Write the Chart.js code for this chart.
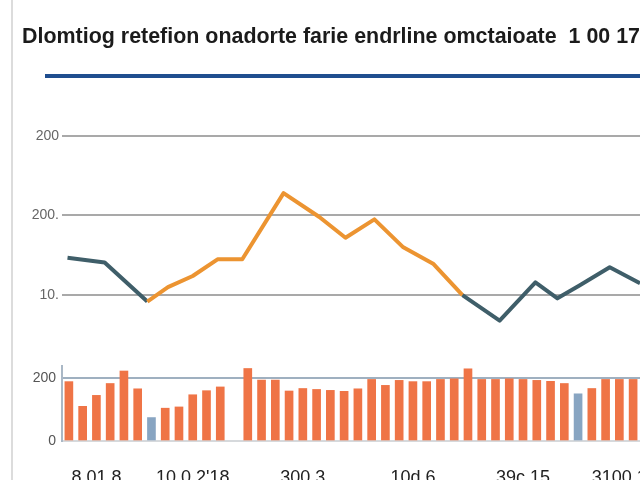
<!DOCTYPE html>
<html>
<head>
<meta charset="utf-8">
<script src="https://cdn.jsdelivr.net/npm/chart.js@4/dist/chart.umd.min.js"></script>
<style>
  html, body { margin: 0; padding: 0; background: #fff; overflow: hidden; }
  #wrap { position: relative; width: 640px; height: 480px; overflow: hidden; }
  #frame { position: absolute; left: 11px; top: 0; width: 2px; height: 480px; background: #dcdcdc; }
  #rule { position: absolute; left: 45px; top: 74px; width: 600px; height: 4px; background: #1f4e8f; }
  #lineChart { position: absolute; left: 22px; top: 0; }
  #barChart { position: absolute; left: 12px; top: 356px; }
</style>
</head>
<body>
<div id="wrap">
  <div id="frame"></div>
  <canvas id="lineChart" width="618" height="346"></canvas>
  <div id="rule"></div>
  <canvas id="barChart" width="628" height="140"></canvas>
</div>
<script>
var titulo = 'Dlomtiog retefion onadorte farie endrline omctaioate  1 00 17';

// linha (posicao no eixo de periodos, valor)
var linhaPeriodo = [-0.1, 2.6, 5.7, 7.2, 9.0, 10.8, 12.6, 15.6, 18.2, 20.1, 22.2, 24.3, 26.5, 28.6, 31.3, 33.9, 35.5, 37.1, 39.3, 41.5];
var linhaValores = [147, 141, 92, 110, 124, 145, 145, 228, 198, 172, 195, 160, 139, 100, 68, 116, 96, 112, 135, 115];
var linhaTickValores = [100, 200, 300];
var linhaTickTextos = ['10.', '200.', '200'];

// barras
var periodos = ['', '', '8 01 8', '', '', '', '', '', '', '10 0 2\'18', '', '', '', '', '', '', '', '300 3', '', '', '', '', '', '', '', '10d 6', '', '', '', '', '', '', '', '39c 15', '', '', '', '', '', '', '3100 1', ''];
var barrasValores = [190, 111, 146, 184, 224, 167, 75, 105, 109, 148, 161, 173, null, 232, 195, 195, 160, 168, 165, 162, 159, 167, 197, 178, 194, 190, 190, 197, 199, 231, 197, 197, 199, 197, 194, 191, 184, 151, 168, 197, 197, 197];
var barrasAzuis = [6, 37];
var barrasTickValores = [0, 200];
var barrasTickTextos = ['0', '200'];

var corLaranja = '#ec9431';
var corEscura = '#3f5e69';
var corBarra = '#ef7446';
var corBarraAzul = '#88a5c2';

var fonte = "'Liberation Sans', Arial, sans-serif";

var pontos = [];
for (var i = 0; i < linhaValores.length; i++) {
    pontos.push({ x: linhaPeriodo[i], y: linhaValores[i] });
}

var coresBarras = [];
for (var j = 0; j < barrasValores.length; j++) {
    coresBarras.push(barrasAzuis.indexOf(j) >= 0 ? corBarraAzul : corBarra);
}

var fixaTicks = function(valores) {
    return function(scale) {
        scale.ticks = valores.map(function(v) { return { value: v }; });
    };
};

var textoTick = function(valores, textos) {
    return function(v) {
        var k = valores.indexOf(v);
        return k >= 0 ? textos[k] : '';
    };
};

// tira o espaco extra que o chart.js reserva para os rotulos das pontas
var semPadding = function(largura, altura) {
    return function(s) {
        if (largura) s.width = largura;
        if (altura) s.height = altura;
        s.paddingTop = 0;
        s.paddingBottom = 0;
        s.paddingLeft = 0;
        s.paddingRight = 0;
    };
};

new Chart(document.getElementById('lineChart'), {
    type: 'line',
    data: {
        datasets: [{
            data: pontos,
            borderWidth: 4,
            borderColor: corLaranja,
            borderJoinStyle: 'round',
            tension: 0,
            pointRadius: 0,
            segment: {
                borderColor: function(ctx) {
                    var k = ctx.p0DataIndex;
                    return (k < 2 || k >= 13) ? corEscura : corLaranja;
                }
            }
        }]
    },
    options: {
        responsive: false,
        animation: false,
        devicePixelRatio: 1,
        layout: { padding: { left: 0, right: 0, top: 0, bottom: 3 } },
        plugins: {
            legend: { display: false },
            tooltip: { enabled: false },
            title: {
                display: true,
                text: titulo,
                align: 'start',
                color: '#1b1b1b',
                font: { family: fonte, size: 22, weight: 'bold' },
                padding: { top: 24, bottom: 59 }
            }
        },
        scales: {
            x: {
                type: 'linear',
                min: -0.5,
                max: 41.5,
                display: false
            },
            y: {
                min: 40,
                max: 333,
                afterBuildTicks: fixaTicks(linhaTickValores),
                afterFit: semPadding(40, 0),
                border: { display: false },
                grid: { color: '#a9a9a9', lineWidth: 2, drawTicks: false },
                ticks: {
                    padding: 3,
                    color: '#666',
                    font: { family: fonte, size: 14 },
                    callback: textoTick(linhaTickValores, linhaTickTextos)
                }
            }
        }
    }
});

new Chart(document.getElementById('barChart'), {
    type: 'bar',
    data: {
        labels: periodos,
        datasets: [{
            data: barrasValores,
            backgroundColor: coresBarras,
            barThickness: 8
        }]
    },
    options: {
        responsive: false,
        animation: false,
        devicePixelRatio: 1,
        layout: { padding: { left: 0, right: 0, top: 10, bottom: 0 } },
        plugins: {
            legend: { display: false },
            tooltip: { enabled: false }
        },
        scales: {
            x: {
                afterFit: semPadding(0, 55),
                border: { display: false },
                grid: { display: false, drawTicks: false },
                ticks: {
                    autoSkip: false,
                    maxRotation: 0,
                    padding: 26,
                    color: '#222',
                    font: { family: fonte, size: 18 }
                }
            },
            y: {
                min: 0,
                max: 240,
                afterBuildTicks: fixaTicks(barrasTickValores),
                afterFit: semPadding(50, 0),
                border: { display: true, color: '#aab8c6', width: 2 },
                grid: {
                    drawTicks: false,
                    lineWidth: 2,
                    color: function(ctx) { return ctx.tick && ctx.tick.value === 0 ? '#d6d9dc' : '#9fb0c0'; }
                },
                ticks: {
                    padding: 6,
                    color: '#555',
                    font: { family: fonte, size: 14 },
                    callback: textoTick(barrasTickValores, barrasTickTextos)
                }
            }
        }
    }
});
</script>
</body>
</html>
